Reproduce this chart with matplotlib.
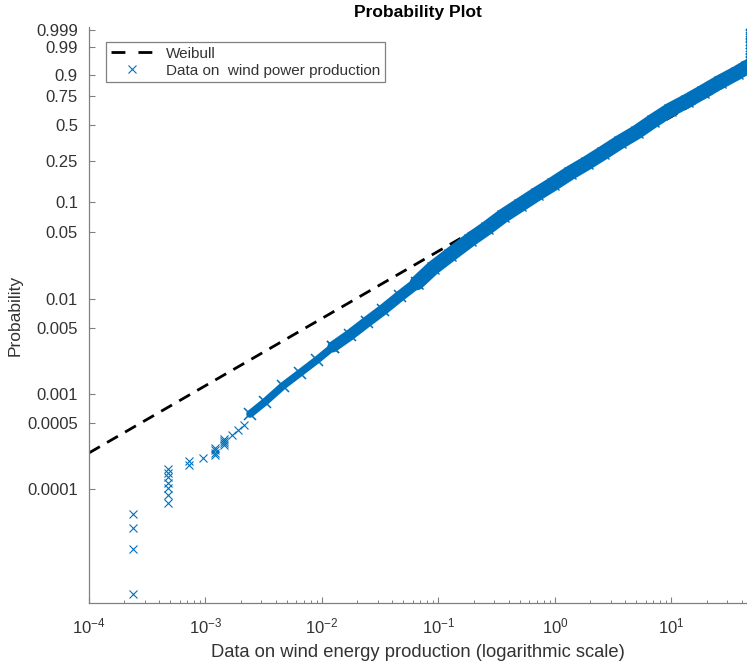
import numpy as np
import matplotlib
matplotlib.use('Agg')
import matplotlib.pyplot as plt
from matplotlib.lines import Line2D
from matplotlib.ticker import LogLocator, NullLocator, FixedLocator

plt.rcParams['font.family'] = ['Liberation Sans', 'DejaVu Sans']
plt.rcParams['mathtext.fontset'] = 'custom'
plt.rcParams['mathtext.rm'] = 'Liberation Sans'
plt.rcParams['mathtext.it'] = 'Liberation Sans:italic'
plt.rcParams['mathtext.bf'] = 'Liberation Sans:bold'

x_sparse = [2.4e-4, 2.4e-4, 2.4e-4, 2.4e-4,
            4.8e-4, 4.8e-4, 4.8e-4, 4.8e-4, 4.8e-4, 4.8e-4, 4.8e-4,
            7.2e-4, 7.2e-4, 9.6e-4,
            1.2e-3, 1.2e-3, 1.2e-3, 1.2e-3,
            1.44e-3, 1.44e-3, 1.44e-3, 1.44e-3,
            1.68e-3, 1.92e-3, 2.16e-3]
p_sparse = [7.8e-6, 2.34e-5, 3.9e-5, 5.47e-5,
            7.03e-5, 8.59e-5, 1.02e-4, 1.17e-4, 1.33e-4, 1.48e-4, 1.64e-4,
            1.80e-4, 1.95e-4, 2.11e-4,
            2.27e-4, 2.42e-4, 2.58e-4, 2.73e-4,
            2.89e-4, 3.05e-4, 3.20e-4, 3.36e-4,
            3.7e-4, 4.2e-4, 4.73e-4]

# dense part of the sample (quantiles read along the band)
x_dense = [2.41e-3, 3.24e-3, 4.62e-3, 6.47e-3, 9.06e-3, 1.24e-2, 1.74e-2, 2.43e-2,
           3.34e-2, 4.68e-2, 6.53e-2, 8.97e-2, 0.1256, 0.186, 0.261, 0.358, 0.501,
           0.700, 0.962, 1.346, 1.882, 2.58, 3.61, 5.06, 6.93, 9.70, 13.6, 18.6,
           26.1, 36.5, 44.5]
p_dense = [6.17e-4, 8.27e-4, 1.22e-3, 1.67e-3, 2.29e-3, 3.14e-3, 4.20e-3, 5.76e-3,
           7.71e-3, 0.01076, 0.01474, 0.02114, 0.02889, 0.0413, 0.0548, 0.0727, 0.0939,
           0.1208, 0.1513, 0.193, 0.239, 0.294, 0.365, 0.440, 0.531, 0.628, 0.708, 0.784,
           0.858, 0.912, 0.940]

# observations stuck at the maximum value
x_cap = [48, 48, 48, 48, 48, 48, 48, 48, 48, 48, 48, 48, 48]
p_cap = [0.94, 0.95, 0.96, 0.97, 0.98, 0.985, 0.99, 0.993, 0.995, 0.997, 0.998, 0.999, 0.9995]

# fitted Weibull reference line (end points)
fit_x = [1e-4, 44.5]
fit_p = [2.4e-4, 0.912]

y_ticks = [0.0001, 0.0005, 0.001, 0.005, 0.01, 0.05, 0.1, 0.25, 0.5, 0.75, 0.9, 0.99, 0.999]
y_labels = ['0.0001', '0.0005', '0.001', '0.005', '0.01', '0.05', '0.1', '0.25',
            '0.5', '0.75', '0.9', '0.99', '0.999']
x_ticks = [1e-4, 1e-3, 1e-2, 1e-1, 1e0, 1e1]
x_labels = [r'$10^{-4}$', r'$10^{-3}$', r'$10^{-2}$', r'$10^{-1}$', r'$10^{0}$', r'$10^{1}$']


def weib_fwd(p):
    p = np.asarray(p, dtype=float)
    with np.errstate(divide='ignore', invalid='ignore'):
        return np.log(-np.log1p(-p))


def weib_inv(y):
    y = np.asarray(y, dtype=float)
    return -np.expm1(-np.exp(y))


blue = '#0072BD'
W, H = 747, 667
fig = plt.figure(figsize=(W / 100, H / 100), dpi=100)
ax = fig.add_axes([89 / W, 64 / H, (W - 89) / W, (603 - 27) / H])
ax.set_xscale('log')
ax.set_yscale('function', functions=(weib_fwd, weib_inv))

ax.plot(fit_x, fit_p, color='black', lw=2, dashes=(4.5, 3.0), zorder=1)
# the band gets thicker as the sample gets denser
ax.plot(x_dense[:6], p_dense[:6], color=blue, lw=5.5, marker='x', ms=8.5, mew=1.1,
        solid_capstyle='round', zorder=2)
ax.plot(x_dense[5:11], p_dense[5:11], color=blue, lw=8, marker='x', ms=9, mew=1.1,
        solid_capstyle='round', zorder=2)
ax.plot(x_dense[10:], p_dense[10:], color=blue, lw=10.5, marker='x', ms=9, mew=1,
        solid_capstyle='round', zorder=2)
ax.plot(x_cap, p_cap, ls='none', marker='x', ms=7, mew=1.2, color=blue, zorder=2)
ax.plot(x_sparse, p_sparse, ls='none', marker='x', ms=5.5, mew=0.8, color=blue, zorder=2)

ax.set_xlim(1e-4, 44.5)
ax.set_ylim(6.28e-6, 0.9994)

ax.xaxis.set_major_locator(FixedLocator(x_ticks))
ax.set_xticklabels(x_labels)
ax.xaxis.set_minor_locator(LogLocator(base=10, subs=np.arange(2, 10)))
ax.set_yticks(y_ticks)
ax.set_yticklabels(y_labels)
ax.yaxis.set_minor_locator(NullLocator())

for side in ['top', 'right']:
    ax.spines[side].set_visible(False)
for side in ['left', 'bottom']:
    ax.spines[side].set_color('#808080')
    ax.spines[side].set_linewidth(0.9)

ax.tick_params(axis='both', which='major', direction='in', length=4.5, width=0.8,
               color='#808080', labelsize=12, labelcolor='#333333')
ax.tick_params(axis='x', which='minor', direction='in', length=2.5, width=0.7, color='#808080')
ax.tick_params(axis='y', which='major', pad=8)
ax.tick_params(axis='x', which='major', pad=10)

ax.set_xlabel('Data on wind energy production (logarithmic scale)', fontsize=13.2,
              color='#333333', labelpad=5)
ax.set_ylabel('Probability', fontsize=12.5, color='#333333', labelpad=3)
fig.text(418 / W, 1 - 12 / H, 'Probability Plot', ha='center', va='center',
         fontsize=12.5, fontweight='bold', color='black')

h_fit = Line2D([], [], color='black', lw=2, dashes=(5, 4.7))
h_data = Line2D([], [], ls='none', marker='x', ms=5.5, mew=0.8, color=blue)
leg = ax.legend([h_fit, h_data], ['Weibull', 'Data on  wind power production'],
                loc='upper left', bbox_to_anchor=(106 / W, 1 - 42 / H),
                bbox_transform=fig.transFigure, borderaxespad=0, fontsize=11,
                handlelength=2.75, handletextpad=0.9, labelspacing=0.2,
                borderpad=0.3, fancybox=False, framealpha=1)
leg.get_frame().set_edgecolor('#808080')
leg.get_frame().set_linewidth(0.9)
for t in leg.get_texts():
    t.set_color('#333333')

fig.savefig('out.png', dpi=100)
